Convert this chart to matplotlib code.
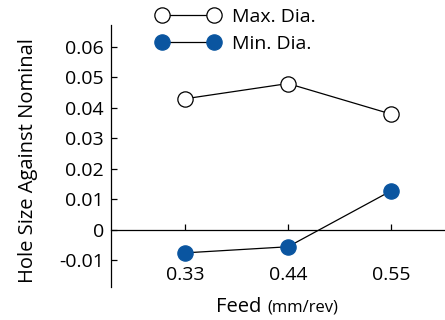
from matplotlib import pyplot as plt

plt.rcParams['font.family'] = ['Open Sans', 'DejaVu Sans']

feeds = ['0.33', '0.44', '0.55']
max_dia = [0.043, 0.048, 0.038]
min_dia = [-0.0075, -0.0055, 0.0128]
yticks = [-0.01, 0, 0.01, 0.02, 0.03, 0.04, 0.05, 0.06]
ytick_labels = ['-0.01', '0', '0.01', '0.02', '0.03', '0.04', '0.05', '0.06']

bleu = '#0a55a0'

fig = plt.figure(figsize=(4.45, 3.2), dpi=100)
ax = fig.add_axes([0.2494, 0.103, 0.7506, 0.819])

pos = list(range(len(feeds)))
ax.plot(pos, max_dia, color='black', lw=0.9, marker='o', ms=11,
        mfc='white', mec='black', mew=0.9, label='Max. Dia.')
ax.plot(pos, min_dia, color='black', lw=0.9, marker='o', ms=11,
        mfc=bleu, mec=bleu, mew=0.9, label='Min. Dia.')

ax.set_xlim(-0.718, 2.524)
ax.set_ylim(-0.0187, 0.0672)

ax.spines['top'].set_visible(False)
ax.spines['right'].set_visible(False)
ax.spines['bottom'].set_position(('data', 0))
ax.spines['left'].set_linewidth(0.9)
ax.spines['bottom'].set_linewidth(0.9)

ax.set_xticks(pos)
ax.set_xticklabels(feeds)
ax.set_yticks(yticks)
ax.set_yticklabels(ytick_labels)
ax.tick_params(axis='y', direction='in', length=4, width=0.9, labelsize=14, pad=5)
ax.tick_params(axis='x', direction='in', length=4, width=0.9, labelsize=14, pad=26)

fig.text(0.063, 0.497, 'Hole Size Against Nominal', rotation=90,
         ha='center', va='center', fontsize=14.5)
fig.text(0.486, 0.025, 'Feed', ha='left', va='baseline', fontsize=14.5)
fig.text(0.600, 0.025, '(mm/rev)', ha='left', va='baseline', fontsize=12)

fig.legend(loc='upper left', bbox_to_anchor=(0.311, 1.03), frameon=False,
           numpoints=2, handlelength=3.3, handletextpad=0.6,
           labelspacing=0.45, fontsize=14)

fig.savefig('out.png', dpi=100)
